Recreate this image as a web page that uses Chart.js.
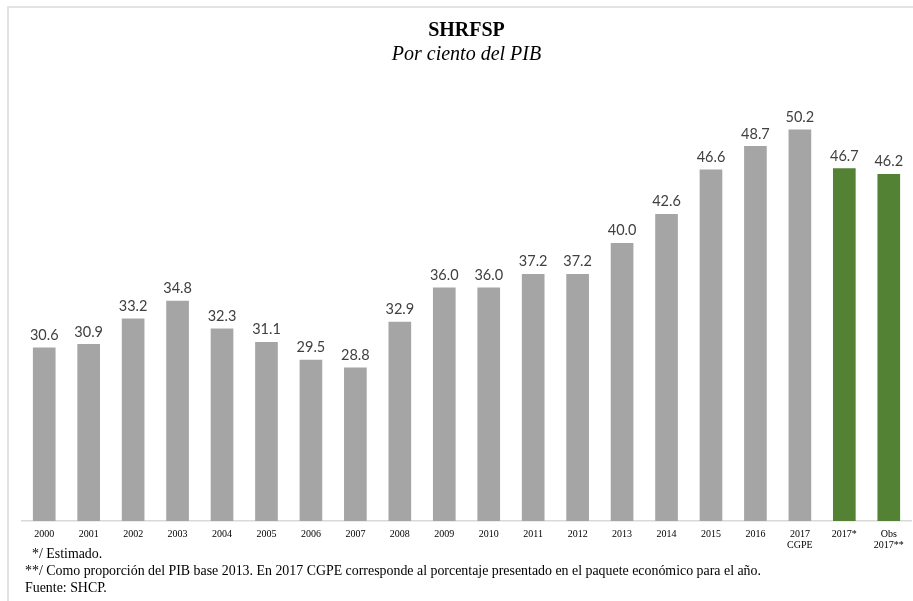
<!DOCTYPE html>
<html>
<head>
<meta charset="utf-8">
<script src="https://cdn.jsdelivr.net/npm/chart.js@4/dist/chart.umd.min.js"></script>
<style>
  html, body { margin: 0; padding: 0; background: #fff; }
  #wrap { position: relative; width: 913px; height: 601px; overflow: hidden; }
  #frame { position: absolute; left: 7px; top: 6px; width: 906px; height: 595px;
           border-top: 2px solid #e3e3e3; border-left: 2px solid #e3e3e3; }
  #myChart { position: absolute; left: 0; top: 0; }
  .note { position: absolute; font-family: "Liberation Serif", "Times New Roman", serif;
          font-size: 13.9px; color: #000; white-space: nowrap; line-height: 17px; }
</style>
</head>
<body>
<div id="wrap">
  <div id="frame"></div>
  <canvas id="myChart" width="913" height="601"></canvas>
  <div class="note" style="left:32px; top:545px;">*/ Estimado.</div>
  <div class="note" style="left:25px; top:562px;">**/ Como proporción del PIB base 2013. En 2017 CGPE corresponde al porcentaje presentado en el paquete económico para el año.</div>
  <div class="note" style="left:25px; top:579px;">Fuente: SHCP.</div>
</div>
<script>
// Categories (years)
const years = ['2000', '2001', '2002', '2003', '2004', '2005', '2006', '2007', '2008', '2009',
    '2010', '2011', '2012', '2013', '2014', '2015', '2016', ['2017', 'CGPE'], '2017*', ['Obs', '2017**']];
// SHRFSP, por ciento del PIB
const shrfsp = [30.6, 30.9, 33.2, 34.8, 32.3, 31.1, 29.5, 28.8, 32.9, 36.0,
    36.0, 37.2, 37.2, 40.0, 42.6, 46.6, 48.7, 50.2, 46.7, 46.2];
// Bar colours: gray history, green estimates
const barColors = shrfsp.map((v, i) => i >= 18 ? '#548235' : '#a5a5a5');

// Value labels over each bar
const valueLabels = {
    id: 'valueLabels',
    afterDatasetsDraw(chart) {
        const ctx = chart.ctx;
        const meta = chart.getDatasetMeta(0);
        ctx.save();
        ctx.font = '14.5px Lato, "Open Sans", sans-serif';
        ctx.fillStyle = '#404040';
        ctx.textAlign = 'center';
        ctx.textBaseline = 'bottom';
        meta.data.forEach((bar, i) => {
            ctx.fillText(shrfsp[i].toFixed(1), bar.x, bar.y - 5);
        });
        ctx.restore();
    }
};

const ctx = document.getElementById('myChart').getContext('2d');
const myChart = new Chart(ctx, {
    type: 'bar',
    data: {
        labels: years,
        datasets: [{
            data: shrfsp,
            backgroundColor: barColors,
            barPercentage: 0.51,
            categoryPercentage: 1.0
        }]
    },
    options: {
        responsive: false,
        animation: false,
        layout: { padding: { left: 22, right: 2, top: 19, bottom: 42 } },
        plugins: {
            legend: { display: false },
            tooltip: { enabled: false },
            title: {
                display: true,
                text: 'SHRFSP',
                color: '#000',
                font: { family: '"Liberation Serif", serif', size: 20, weight: 'bold', lineHeight: 1.2 },
                padding: { top: 0, bottom: 0 }
            },
            subtitle: {
                display: true,
                text: 'Por ciento del PIB',
                color: '#000',
                font: { family: '"Liberation Serif", serif', size: 20, style: 'italic', lineHeight: 1.2 },
                padding: { top: 0, bottom: 9 }
            }
        },
        scales: {
            x: {
                grid: { display: false, drawTicks: false },
                border: { display: true, color: '#d9d9d9', width: 1.5 },
                ticks: {
                    color: '#000',
                    padding: 8,
                    maxRotation: 0,
                    autoSkip: false,
                    font: { family: '"Liberation Serif", serif', size: 10, lineHeight: 1.1 }
                }
            },
            y: {
                display: false,
                min: 15,
                max: 55
            }
        }
    },
    plugins: [valueLabels]
});
</script>
</body>
</html>
